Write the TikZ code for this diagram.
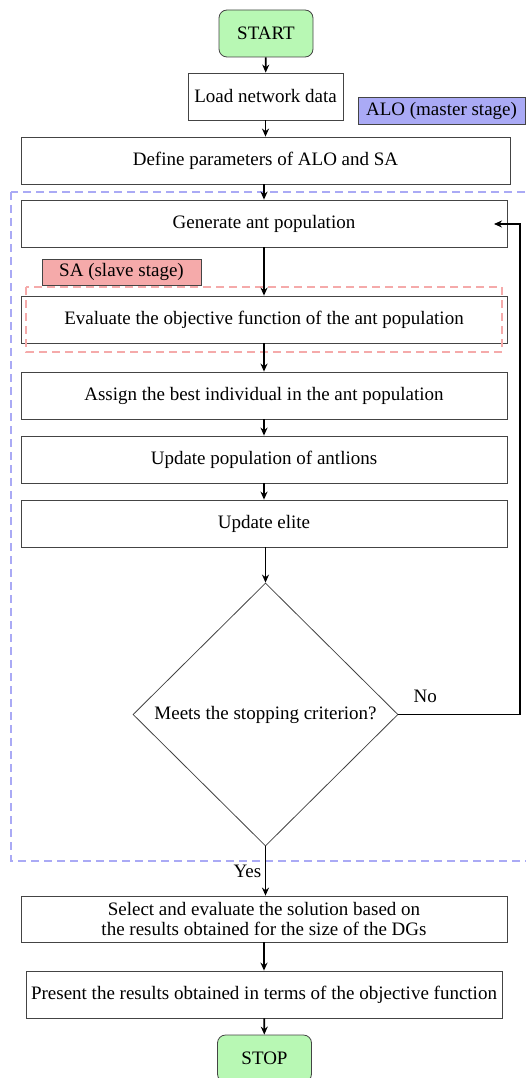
\documentclass[tikz,border=0pt]{standalone}
\usepackage{fontspec}
\setmainfont{Liberation Serif}
\usetikzlibrary{shapes.geometric,arrows.meta}
\definecolor{startgreen}{HTML}{B8F8B4}
\definecolor{alofill}{HTML}{AAAAF5}
\definecolor{safill}{HTML}{F5AAAA}
\definecolor{blueframe}{HTML}{AAAAF5}
\definecolor{pinkframe}{HTML}{F5AAAA}
\definecolor{bordergray}{HTML}{444444}
\begin{document}
\begin{tikzpicture}[x=1pt,y=-1pt,
  every node/.style={font=\fontsize{19}{20}\selectfont},
  procbox/.style={draw=bordergray,line width=0.8pt,rectangle,minimum height=47pt,inner sep=2pt,align=center},
  termbox/.style={draw=bordergray,line width=0.8pt,rectangle,rounded corners=8pt,fill=startgreen,minimum width=94pt,minimum height=47pt},
  tagbox/.style={draw=bordergray,line width=0.6pt,rectangle,inner sep=2pt},
  flow/.style={-{Stealth[length=8pt,width=7pt]},line width=1.8pt,black},
  backflow/.style={-{Stealth[length=8pt,width=7pt]},line width=1.1pt,black}]
\useasboundingbox (0,0) rectangle (526,1078);

\node[termbox] (start) at (266,33.5) {START};
\node[procbox,minimum width=155pt] (load) at (265.5,96.5) {Load network data};
\node[tagbox,fill=alofill,minimum width=167pt,minimum height=27pt] (alo) at (441.5,110.5) {ALO (master stage)};
\node[procbox,minimum width=489pt] (define) at (265.5,160.5) {Define parameters of ALO and SA};
\node[procbox,minimum width=486pt] (gen) at (264,223.5) {Generate ant population};
\node[tagbox,fill=safill,minimum width=159pt,minimum height=26pt] (sa) at (121.5,272) {SA (slave stage)};
\node[procbox,minimum width=486pt] (eval) at (264,319.5) {Evaluate the objective function of the ant population};
\node[procbox,minimum width=486pt] (assign) at (264,395.5) {Assign the best individual in the ant population};
\node[procbox,minimum width=486pt] (upop) at (264,459.5) {Update population of antlions};
\node[procbox,minimum width=486pt] (elite) at (264,523.5) {Update elite};
\node[draw=bordergray,line width=0.8pt,diamond,aspect=1,inner sep=0pt,minimum width=265pt,minimum height=263pt] (dia) at (265.5,714.5) {Meets the stopping criterion?};
\node[procbox,minimum width=486pt,minimum height=46pt] (select) at (264,919) {Select and evaluate the solution based on\\the results obtained for the size of the DGs};
\node[procbox,minimum width=476pt] (present) at (264,994.5) {Present the results obtained in terms of the objective function};
\node[termbox] (stop) at (264.5,1058.5) {STOP};

% frames
\draw[blueframe,line width=2pt,dash pattern=on 8pt off 5pt] (11,192) rectangle (535,861);
\draw[pinkframe,line width=2pt,dash pattern=on 8pt off 5pt] (26,287) rectangle (502,352);

% connectors
\draw[flow] (start) -- (load);
\draw[flow] (load) -- (define);
\draw[flow] (define.south -| gen.north) -- (gen);
\draw[flow] (gen) -- (eval);
\draw[flow] (eval) -- (assign);
\draw[flow] (assign) -- (upop);
\draw[flow] (upop) -- (elite);
\draw[flow] (elite.south -| dia.north) -- (dia);
\draw[flow] (dia.south) -- node[left,pos=0.5]{Yes} (select.north -| dia.south);
\draw[flow] (select) -- (present);
\draw[flow] (present) -- (stop);
\coordinate (genin) at (494,224);
\coordinate (turn) at (520,714.5);
\draw[backflow] (dia.east) -- node[above,pos=0.22,yshift=8pt]{No} (turn) |- (genin);
\end{tikzpicture}
\end{document}
